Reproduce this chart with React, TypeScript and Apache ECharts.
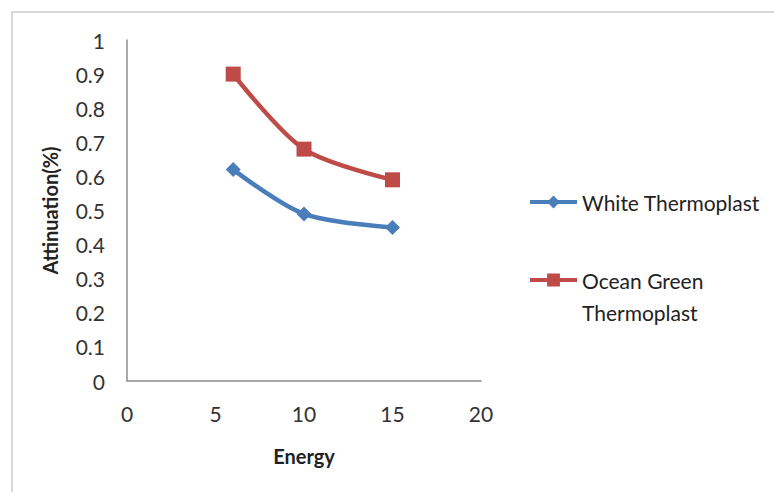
import React, { useEffect, useRef } from "react";
import * as echarts from "echarts";

// Energy values and measured attenuation for each thermoplast
const energy = [6, 10, 15];
const whiteThermoplast = [0.62, 0.49, 0.45];
const oceanGreenThermoplast = [0.9, 0.68, 0.59];

const xTicks = { min: 0, max: 20, interval: 5 };
const yTicks = { min: 0, max: 1, interval: 0.1 };

const FONT = "Lato";

export default function App() {
  const ref = useRef<HTMLDivElement>(null);

  useEffect(() => {
    if (!ref.current) return;
    const chart = echarts.init(ref.current, undefined, { renderer: "svg" });

    const toPairs = (ys: number[]) => energy.map((x, i) => [x, ys[i]]);

    const legendBase = {
      left: 528,
      itemWidth: 47,
      itemHeight: 16,
      padding: 0,
      lineStyle: { width: 4 },
    };

    chart.setOption({
      animation: false,
      backgroundColor: "#ffffff",
      textStyle: { fontFamily: FONT },
      graphic: [
        {
          type: "rect",
          shape: { x: 12, y: 12, width: 800, height: 520 },
          style: { fill: "none", stroke: "#d9d9d9", lineWidth: 2 },
          silent: true,
        },
      ],
      grid: { left: 127, top: 40, right: 293, bottom: 111 },
      xAxis: {
        type: "value",
        min: xTicks.min,
        max: xTicks.max,
        interval: xTicks.interval,
        name: "Energy",
        nameLocation: "middle",
        nameGap: 65,
        nameTextStyle: { fontFamily: FONT, fontWeight: "bold", fontSize: 20, color: "#222" },
        axisLine: { lineStyle: { color: "#8c8c8c", width: 1.5 } },
        axisTick: { show: false },
        splitLine: { show: false },
        axisLabel: { fontFamily: FONT, fontSize: 21, color: "#333", margin: 22 },
      },
      yAxis: {
        type: "value",
        min: yTicks.min,
        max: yTicks.max,
        interval: yTicks.interval,
        name: "Attinuation(%)",
        nameLocation: "middle",
        nameGap: 67,
        nameRotate: 90,
        nameTextStyle: { fontFamily: FONT, fontWeight: "bold", fontSize: 20, color: "#222" },
        axisLine: { show: true, lineStyle: { color: "#8c8c8c", width: 1.5 } },
        axisTick: { show: false },
        splitLine: { show: false },
        axisLabel: { fontFamily: FONT, fontSize: 21, color: "#333", margin: 22 },
      },
      legend: [
        {
          ...legendBase,
          data: ["White Thermoplast"],
          top: 202 - 16,
          textStyle: { fontFamily: FONT, fontSize: 21, lineHeight: 32, color: "#222" },
        },
        {
          ...legendBase,
          data: ["Ocean Green Thermoplast"],
          top: 280 - 48,
          // blank first line keeps the symbol level with "Ocean Green"
          formatter: () => " \nOcean Green\nThermoplast",
          textStyle: { fontFamily: FONT, fontSize: 21, lineHeight: 32, color: "#222" },
        },
      ],
      series: [
        {
          name: "White Thermoplast",
          type: "line",
          data: toPairs(whiteThermoplast),
          smooth: 0.3,
          symbol: "diamond",
          symbolSize: 15,
          color: "#4a7ebb",
          lineStyle: { width: 4.5, color: "#4a7ebb" },
          itemStyle: { color: "#4a7ebb" },
        },
        {
          name: "Ocean Green Thermoplast",
          type: "line",
          data: toPairs(oceanGreenThermoplast),
          smooth: 0.3,
          symbol: "rect",
          symbolSize: 15,
          color: "#be4b48",
          lineStyle: { width: 4.5, color: "#be4b48" },
          itemStyle: { color: "#be4b48" },
        },
      ],
    });

    return () => chart.dispose();
  }, []);

  return (
    <div
      ref={ref}
      style={{ position: "absolute", left: 0, top: 0, width: 774, height: 492 }}
    />
  );
}
